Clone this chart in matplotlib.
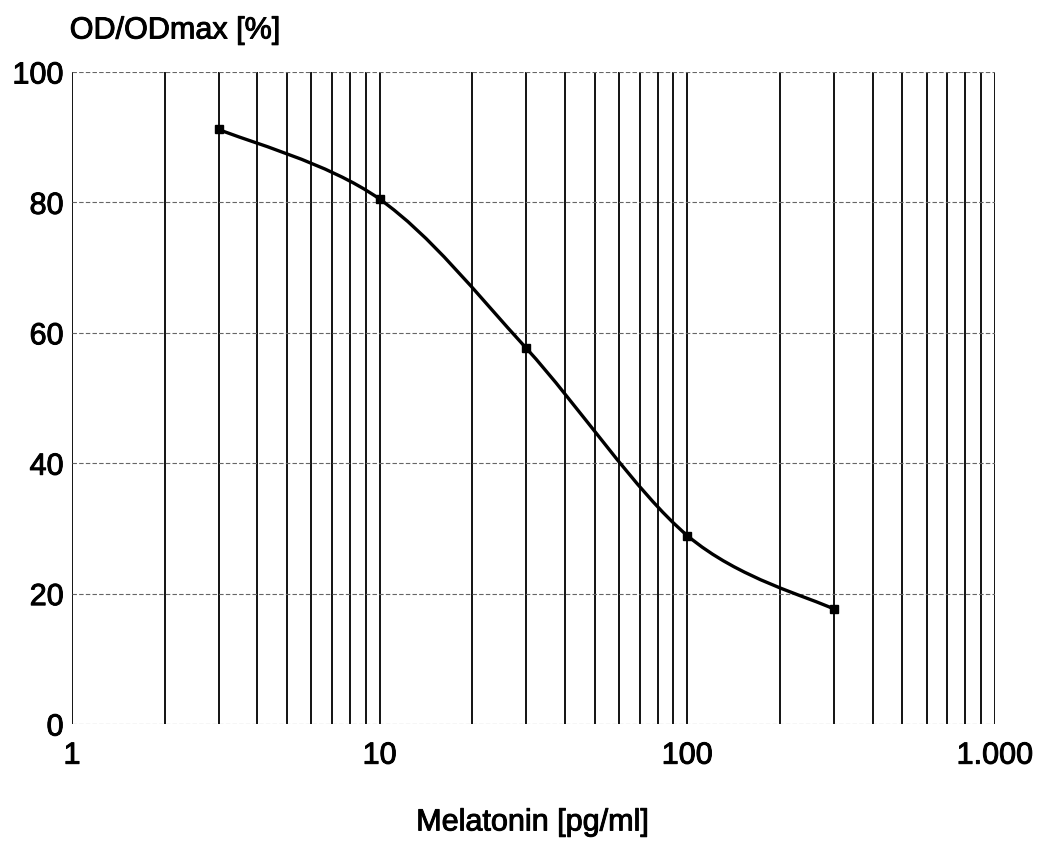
import numpy as np
import matplotlib
matplotlib.use("Agg")
import matplotlib.pyplot as plt
import matplotlib.patheffects as pe
from matplotlib.path import Path
from matplotlib.patches import PathPatch

# Data
conc = [3, 10, 30, 100, 300]
od_pct = [91.2, 80.5, 57.6, 28.9, 17.6]
x_ticks = [1, 10, 100, 1000]
x_ticklabels = ["1", "10", "100", "1.000"]
y_ticks = [0, 20, 40, 60, 80, 100]

plt.rcParams['font.family'] = ['Liberation Sans', 'DejaVu Sans']

fig = plt.figure(figsize=(10.41, 8.47), dpi=100)
ax = fig.add_axes([0.0692, 0.1452, 0.8866, 0.7698])
ax.set_xscale('log')
ax.set_xlim(1, 1000)
ax.set_ylim(0, 100)

for s in ax.spines.values():
    s.set_visible(False)

# vertical grid lines at every log tick
vgrid = [m * 10 ** d for d in range(3) for m in range(1, 10)] + [1000]
for v in vgrid:
    ax.axvline(v, color='black', lw=1.3, zorder=1)
for h in y_ticks:
    ax.axhline(h, color='#666666', lw=0.8, ls=(0, (4, 2)), zorder=1)

# smooth curve (Catmull-Rom -> cubic Bezier in log-x space)
lx = np.log10(conc)
yy = np.array(od_pct, dtype=float)
pts = np.column_stack([lx, yy])
verts = [pts[0]]
codes = [Path.MOVETO]
n = len(pts)
for i in range(n - 1):
    p0 = pts[i - 1] if i > 0 else pts[i]
    p1 = pts[i]
    p2 = pts[i + 1]
    p3 = pts[i + 2] if i + 2 < n else pts[i + 1]
    c1 = p1 + (p2 - p0) / 6.0
    c2 = p2 - (p3 - p1) / 6.0
    verts += [c1, c2, p2]
    codes += [Path.CURVE4] * 3
verts = np.array(verts)
verts[:, 0] = 10 ** verts[:, 0]
ax.add_patch(PathPatch(Path(verts, codes), fc='none', ec='black', lw=2.4, zorder=3))
ax.plot(conc, od_pct, ls='none', marker='s', ms=6, color='black', zorder=4)

thick = [pe.withStroke(linewidth=0.7, foreground='black')]

ax.set_xticks(x_ticks)
ax.set_xticklabels(x_ticklabels)
ax.xaxis.set_minor_locator(matplotlib.ticker.NullLocator())
ax.set_yticks(y_ticks)
ax.tick_params(length=0, labelsize=22, pad=6)
ax.tick_params(axis='x', pad=12)
for lbl in ax.get_xticklabels() + ax.get_yticklabels():
    lbl.set_path_effects(thick)

fig.text(0.067, 0.964, "OD/ODmax [%]", fontsize=22, ha='left', va='center', path_effects=thick)
fig.text(0.511, 0.029, "Melatonin [pg/ml]", fontsize=22, ha='center', va='center', path_effects=thick)

fig.savefig("out.png", dpi=100)
